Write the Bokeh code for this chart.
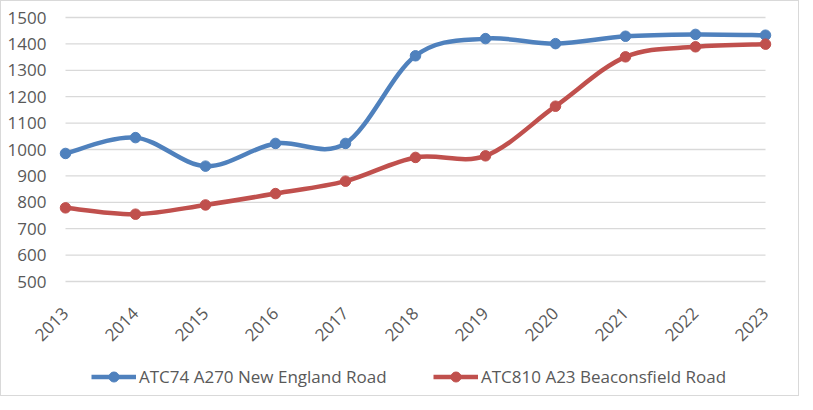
import math
from bokeh.plotting import figure
from bokeh.layouts import column
from bokeh.models import FixedTicker, Legend, LegendItem, ColumnDataSource, Range1d
from bokeh.embed import file_html
from bokeh.resources import INLINE

years = [2013, 2014, 2015, 2016, 2017, 2018, 2019, 2020, 2021, 2022, 2023]
year_labels = [str(y) for y in years]
new_england = [985, 1045, 937, 1023, 1023, 1355, 1420, 1401, 1429, 1436, 1433]
beaconsfield = [779, 755, 790, 833, 880, 970, 976, 1164, 1351, 1389, 1399]
y_ticks = [500, 600, 700, 800, 900, 1000, 1100, 1200, 1300, 1400, 1500]
series_names = ["ATC74 A270 New England Road", "ATC810 A23 Beaconsfield Road"]

BLUE = "#4F81BD"
RED = "#C0504D"
GRID = "#D9D9D9"
TEXT = "#595959"
FONT = "Open Sans"
FSIZE = "17px"

W = 797
H1, H2 = 350, 44
ML, MR, MT = 50, 19, 6
FRAME_H = 284
MB = H1 - MT - FRAME_H

pad_y = 10 / (264 / (y_ticks[-1] - y_ticks[0]))

p = figure(width=W, height=H1, output_backend="svg", toolbar_location=None,
           x_range=Range1d(years[0] - 0.2, years[-1] + 0.2),
           y_range=Range1d(y_ticks[0] - pad_y, y_ticks[-1] + pad_y),
           min_border_left=ML, min_border_right=MR, min_border_top=MT,
           min_border_bottom=MB)
p.outline_line_color = None
p.xgrid.visible = False
p.ygrid.visible = False

# gridlines spanning first to last category
p.segment(x0=[years[0]] * len(y_ticks), x1=[years[-1]] * len(y_ticks),
          y0=y_ticks, y1=y_ticks, line_color=GRID, line_width=1.3)


def smooth(xs, ys):
    n = len(xs)
    pts = list(zip(xs, ys))
    ext = [pts[0]] + pts + [pts[-1]]
    d = dict(x0=[], y0=[], x1=[], y1=[], cx0=[], cy0=[], cx1=[], cy1=[])
    for i in range(n - 1):
        p0, p1, p2, p3 = ext[i], ext[i + 1], ext[i + 2], ext[i + 3]
        d["x0"].append(p1[0]); d["y0"].append(p1[1])
        d["x1"].append(p2[0]); d["y1"].append(p2[1])
        d["cx0"].append(p1[0] + (p2[0] - p0[0]) / 6)
        d["cy0"].append(p1[1] + (p2[1] - p0[1]) / 6)
        d["cx1"].append(p2[0] - (p3[0] - p1[0]) / 6)
        d["cy1"].append(p2[1] - (p3[1] - p1[1]) / 6)
    return ColumnDataSource(d)


for vals, col in [(new_england, BLUE), (beaconsfield, RED)]:
    p.bezier(x0="x0", y0="y0", x1="x1", y1="y1", cx0="cx0", cy0="cy0",
             cx1="cx1", cy1="cy1", source=smooth(years, vals),
             line_color=col, line_width=4.5, line_cap="round")
    p.scatter(years, vals, size=10.5, fill_color=col, line_color=col)

for ax in (p.xaxis[0], p.yaxis[0]):
    ax.axis_line_color = None
    ax.major_tick_line_color = None
    ax.minor_tick_line_color = None
    ax.major_tick_out = 0
    ax.major_tick_in = 0
    ax.major_label_text_font = FONT
    ax.major_label_text_font_size = FSIZE
    ax.major_label_text_color = TEXT

p.xaxis.ticker = FixedTicker(ticks=years)
p.xaxis.major_label_overrides = {y: l for y, l in zip(years, year_labels)}
p.xaxis.major_label_orientation = math.pi / 4
p.xaxis.major_label_standoff = 19
p.yaxis.ticker = FixedTicker(ticks=y_ticks)
p.yaxis.major_label_standoff = 5

# legend strip (its series are drawn out of its view; only the legend shows)
q = figure(width=W, height=H2, output_backend="svg", toolbar_location=None,
           x_range=Range1d(0, 1), y_range=Range1d(0, 1),
           x_axis_location=None, y_axis_location=None,
           min_border_left=0, min_border_right=0, min_border_top=0,
           min_border_bottom=0)
q.xgrid.visible = False
q.ygrid.visible = False
q.outline_line_color = None
items = []
for vals, col, name in [(new_england, BLUE, series_names[0]),
                        (beaconsfield, RED, series_names[1])]:
    ln = q.line(x=years, y=vals, line_color=col, line_width=4.5)
    mk = q.scatter(x=years, y=vals, size=10, fill_color=col, line_color=col)
    items.append(LegendItem(label=name, renderers=[ln, mk]))

lg = Legend(items=items, location=(40, 6), orientation="horizontal",
            padding=0, margin=0, spacing=0, border_line_color=None,
            background_fill_alpha=0, glyph_width=45, glyph_height=25,
            label_standoff=3, label_width=294, label_text_font=FONT,
            label_text_font_size=FSIZE, label_text_color=TEXT,
            label_height=25)
q.add_layout(lg, "center")

layout = column(p, q, spacing=0,
                styles={"border": "1.5px solid #D9D9D9"})
open("out.html", "w").write(file_html(layout, INLINE))
